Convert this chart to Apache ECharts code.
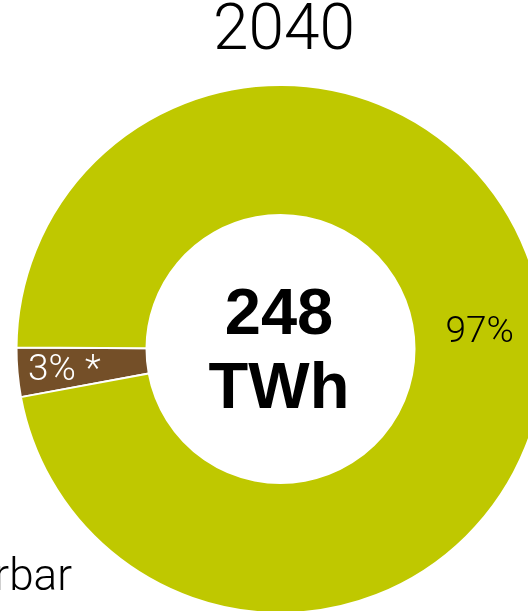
<!DOCTYPE html>
<html>
<head>
<meta charset="utf-8">
<script src="https://cdn.jsdelivr.net/npm/echarts@6/dist/echarts.min.js"></script>
<style>
  html, body { margin: 0; padding: 0; background: #fff; }
  #chart { width: 528px; height: 611px; }
</style>
</head>
<body>
<div id="chart"></div>
<script>
// Electricity mix for 2040 (share of total production)
const year = '2040';
const totalValue = '248';
const totalUnit = 'TWh';
const categories = ['Fossil', 'Förnybar'];
const shares = [3, 97];
const sliceLabels = ['3% *', '97%'];
const sliceColors = ['#744f28', '#bfc800'];
const sideNote = 'rbar';

const lightFont = 'Roboto, "Liberation Sans", sans-serif';
const boldFont = '"Liberation Sans", Arial, sans-serif';

const chart = echarts.init(document.getElementById('chart'), null, { renderer: 'canvas' });

chart.setOption({
  animation: false,
  backgroundColor: '#ffffff',
  graphic: [
    {
      // year heading
      type: 'text',
      style: {
        text: year,
        x: 284,
        y: 1,
        textAlign: 'center',
        textVerticalAlign: 'top',
        fontFamily: lightFont,
        fontWeight: 300,
        fontSize: 64,
        fill: '#000'
      }
    },
    {
      // total in the donut hole
      type: 'text',
      style: {
        text: totalValue + '\n' + totalUnit,
        x: 279,
        y: 353,
        textAlign: 'center',
        textVerticalAlign: 'middle',
        fontFamily: boldFont,
        fontWeight: 'bold',
        fontSize: 65,
        lineHeight: 74,
        fill: '#000'
      }
    },
    {
      type: 'text',
      style: {
        text: sideNote,
        x: 72,
        y: 601,
        textAlign: 'right',
        textVerticalAlign: 'bottom',
        fontFamily: lightFont,
        fontWeight: 300,
        fontSize: 44,
        fill: '#000'
      }
    }
  ],
  series: [
    {
      type: 'pie',
      center: [280.5, 349],
      radius: [134, 264],
      startAngle: 190.5,
      clockwise: true,
      avoidLabelOverlap: false,
      itemStyle: { borderColor: '#ffffff', borderWidth: 2 },
      label: {
        show: true,
        position: 'inside',
        fontFamily: lightFont,
        fontWeight: 300,
        fontSize: 37
      },
      labelLine: { show: false },
      emphasis: { disabled: true },
      data: categories.map((name, i) => ({
        name: name,
        value: shares[i],
        itemStyle: { color: sliceColors[i] },
        label: {
          formatter: sliceLabels[i],
          color: i === 0 ? '#ffffff' : '#000000',
          offset: i === 0 ? [-15, 4] : [-2, 2]
        }
      }))
    }
  ]
});
</script>
</body>
</html>
